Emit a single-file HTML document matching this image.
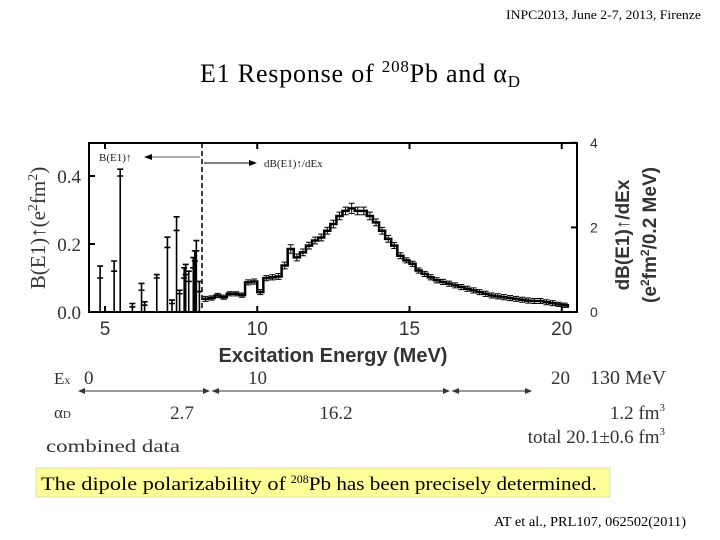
<!DOCTYPE html>
<html><head><meta charset="utf-8"><style>
body{margin:0;background:#fff;}
svg{display:block;}
.serif{font-family:"Liberation Serif",serif;}
.sans{font-family:"Liberation Sans",sans-serif;}
</style></head><body>
<svg width="720" height="540" viewBox="0 0 720 540" xmlns="http://www.w3.org/2000/svg">
<text x="506" y="19" textLength="195" lengthAdjust="spacingAndGlyphs" class="serif" font-size="13">INPC2013, June 2-7, 2013, Firenze</text>
<text x="200" y="82" textLength="320" class="serif" font-size="26">E1 Response of <tspan font-size="17" dy="-10">208</tspan><tspan dy="10">Pb and α</tspan><tspan font-size="17" dy="5">D</tspan></text>

<g id="chart">
<rect x="89" y="143" width="488" height="169" fill="none" stroke="#000" stroke-width="2"/>
<g id="marks"></g>
<line x1="202" y1="143" x2="202" y2="312" stroke="#000" stroke-width="1.5" stroke-dasharray="5,3"/>
<line x1="200" y1="157" x2="148" y2="157" stroke="#555" stroke-width="1"/>
<polygon points="144,157 152,154 152,160" fill="#000"/>
<text x="99" y="161" class="serif" font-size="11" fill="#222">B(E1)↑</text>
<line x1="204" y1="163" x2="252" y2="163" stroke="#000" stroke-width="1"/>
<polygon points="257,163 249,160 249,166" fill="#000"/>
<text x="264" y="167" class="serif" font-size="11" fill="#222">dB(E1)↑/dEx</text>
<g id="ticks"></g>
<text transform="translate(45,228) rotate(-90)" text-anchor="middle" class="serif" font-size="21" fill="#333">B(E1)↑(e<tspan font-size="14" dy="-8">2</tspan><tspan dy="8">fm</tspan><tspan font-size="14" dy="-8">2</tspan><tspan dy="8">)</tspan></text>
<text transform="translate(629,235) rotate(-90)" text-anchor="middle" class="sans" font-size="19" font-weight="bold" fill="#333">dB(E1)↑/dEx</text>
<text transform="translate(656,235) rotate(-90)" text-anchor="middle" class="sans" font-size="19" font-weight="bold" fill="#333">(e<tspan font-size="12" dy="-7">2</tspan><tspan dy="7">fm</tspan><tspan font-size="12" dy="-7">2</tspan><tspan dy="7">/0.2 MeV)</tspan></text>
<text x="333" y="362" text-anchor="middle" class="sans" font-size="20" font-weight="bold" fill="#333">Excitation Energy (MeV)</text>
</g>

<g class="serif" fill="#333">
<text x="54" y="384" font-size="17">E<tspan font-size="12">x</tspan></text>
<text x="84" y="384" font-size="19">0</text>
<text x="248" y="384" font-size="19">10</text>
<text x="551" y="384" font-size="19">20</text>
<text x="590" y="384" font-size="20">130 MeV</text>
<g stroke="#333" stroke-width="1">
<line x1="80" y1="391" x2="208" y2="391"/><line x1="212" y1="391" x2="448" y2="391"/><line x1="452" y1="391" x2="530" y2="391"/>
</g>
<g fill="#333">
<polygon points="78,391 85,388 85,394"/><polygon points="210,391 203,388 203,394"/>
<polygon points="212,391 219,388 219,394"/><polygon points="450,391 443,388 443,394"/>
<polygon points="452,391 459,388 459,394"/><polygon points="532,391 525,388 525,394"/>
</g>
<text x="54" y="418" font-size="17">α<tspan font-size="11">D</tspan></text>
<text x="182" y="419" text-anchor="middle" font-size="19">2.7</text>
<text x="336" y="419" text-anchor="middle" font-size="19">16.2</text>
<text x="665" y="419" text-anchor="end" font-size="19">1.2 fm<tspan font-size="11" dy="-8">3</tspan></text>
<text x="665" y="443" text-anchor="end" font-size="19">total 20.1±0.6 fm<tspan font-size="11" dy="-8">3</tspan></text>
<text x="46" y="452" font-size="18" textLength="134" lengthAdjust="spacingAndGlyphs">combined data</text>
</g>

<rect x="36" y="468" width="574" height="29" fill="#ffff99" stroke="#bbb" stroke-width="0.5"/>
<text x="41" y="490" class="serif" font-size="19"><tspan textLength="245" lengthAdjust="spacingAndGlyphs">The dipole polarizability of</tspan> <tspan font-size="12" dy="-7">208</tspan><tspan dy="7" textLength="288" lengthAdjust="spacingAndGlyphs">Pb has been precisely determined.</tspan></text>
<text x="494" y="526" textLength="192" lengthAdjust="spacingAndGlyphs" class="serif" font-size="14">AT et al., PRL107, 062502(2011)</text>
</svg>
<script>
const histE=[8.2,8.4,8.6,8.8,9.0,9.2,9.4,9.6,9.8,10.0,10.2,10.4,10.6,10.8,11.0,11.2,11.4,11.6,11.8,12.0,12.2,12.4,12.6,12.8,13.0,13.2,13.4,13.6,13.8,14.0,14.2,14.4,14.6,14.8,15.0,15.2,15.4,15.6,15.8,16.0,16.2,16.4,16.6,16.8,17.0,17.2,17.4,17.6,17.8,18.0,18.2,18.4,18.6,18.8,19.0,19.2,19.4,19.6,19.8,20.0];
const histVal=[0.31,0.33,0.39,0.35,0.43,0.43,0.40,0.70,0.72,0.47,0.80,0.82,0.84,1.10,1.49,1.29,1.41,1.57,1.69,1.76,1.92,2.08,2.27,2.39,2.45,2.39,2.39,2.27,2.12,1.92,1.73,1.57,1.33,1.22,1.14,0.98,0.90,0.82,0.75,0.71,0.67,0.63,0.59,0.55,0.51,0.47,0.43,0.39,0.37,0.35,0.33,0.31,0.29,0.27,0.26,0.26,0.23,0.21,0.18,0.16];
const histErr=[0.06,0.05,0.05,0.05,0.05,0.05,0.05,0.06,0.06,0.06,0.06,0.06,0.07,0.08,0.10,0.08,0.08,0.08,0.08,0.08,0.08,0.09,0.09,0.09,0.12,0.09,0.09,0.09,0.08,0.08,0.08,0.07,0.07,0.06,0.06,0.06,0.06,0.06,0.06,0.06,0.06,0.06,0.06,0.06,0.06,0.06,0.06,0.06,0.06,0.06,0.06,0.06,0.06,0.06,0.06,0.06,0.06,0.06,0.05,0.05];
const stickE=[4.84,5.3,5.5,5.9,6.2,6.3,6.7,7.05,7.2,7.35,7.45,7.6,7.65,7.75,7.9,7.95,8.0,8.1];
const stickVal=[0.10,0.12,0.40,0.015,0.064,0.02,0.10,0.19,0.025,0.24,0.054,0.10,0.11,0.09,0.13,0.15,0.18,0.06];
const stickErr=[0.035,0.03,0.02,0.01,0.02,0.01,0.01,0.03,0.01,0.04,0.01,0.03,0.03,0.03,0.03,0.03,0.03,0.03];
const xTicks=[5,10,15,20];
const yLeftTicks=[0.0,0.2,0.4];
const yRightTicks=[0,2,4];

const NS="http://www.w3.org/2000/svg";
const X=e=>105+(e-5)*30.45;
const YL=v=>312-v*340;
const YR=v=>312-v*42.3;
const marks=document.getElementById('marks'), ticks=document.getElementById('ticks');
function mk(tag,attrs,parent){const el=document.createElementNS(NS,tag);for(const k in attrs)el.setAttribute(k,attrs[k]);parent.appendChild(el);return el;}
let d="";
histE.forEach((e,i)=>{const x0=X(e),x1=X(e+0.2),y=YR(histVal[i]);d+=(i?"L":"M")+x0+","+y+"L"+x1+","+y;});
d+="L"+X(20.2)+","+YR(0.1);
const path=mk('path',{d:d,fill:'none',stroke:'#000','stroke-width':2.5},marks);


histE.forEach((e,i)=>{
  const xc=X(e+0.1),yt=YR(histVal[i]+histErr[i]),yb=YR(histVal[i]-histErr[i]);
  const g=mk('path',{d:`M${xc},${yt}L${xc},${yb}M${xc-3},${yt}L${xc+3},${yt}M${xc-3},${yb}L${xc+3},${yb}`,stroke:'#000','stroke-width':1,fill:'none'},marks);
  
  
});
stickE.forEach((e,i)=>{
  const x=X(e),y=YL(stickVal[i]),yt=YL(stickVal[i]+stickErr[i]);
  const l=mk('path',{d:`M${x},312L${x},${y}M${x},${yt}L${x},${y}M${x-3},${yt}L${x+3},${yt}M${x-3},${y}L${x+3},${y}`,stroke:'#000','stroke-width':1.6,fill:'none'},marks);
  
  
});
xTicks.forEach(t=>{
  mk('line',{x1:X(t),y1:312,x2:X(t),y2:306,stroke:'#000','stroke-width':2},ticks);
  mk('line',{x1:X(t),y1:143,x2:X(t),y2:149,stroke:'#000','stroke-width':2},ticks);
  const tx=mk('text',{x:X(t),y:335,'text-anchor':'middle','font-size':19,'font-family':'Liberation Sans,sans-serif',fill:'#333'},ticks);
  tx.textContent=t;
  
  
});
yLeftTicks.forEach(t=>{
  mk('line',{x1:89,y1:YL(t),x2:95,y2:YL(t),stroke:'#000','stroke-width':2},ticks);
  const tx=mk('text',{x:81,y:YL(t)+7,'text-anchor':'end','font-size':19,'font-family':'Liberation Serif,serif',fill:'#333'},ticks);
  tx.textContent=t.toFixed(1);
  
  
});
yRightTicks.forEach(t=>{
  mk('line',{x1:571,y1:YR(t),x2:577,y2:YR(t),stroke:'#000','stroke-width':2},ticks);
  const tx=mk('text',{x:590,y:YR(t)+5,'font-size':14,'font-family':'Liberation Sans,sans-serif',fill:'#333'},ticks);
  tx.textContent=t;
  
  
});
</script>
</body></html>
